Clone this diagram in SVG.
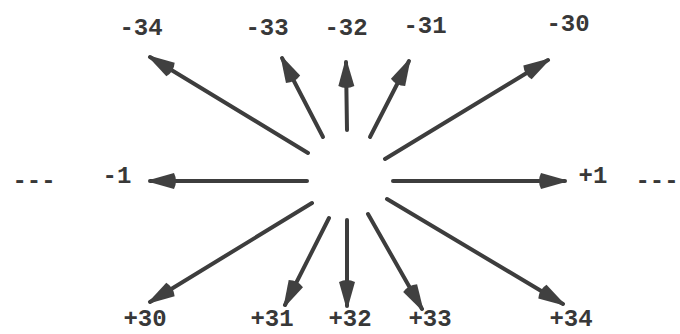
<svg xmlns="http://www.w3.org/2000/svg" width="680" height="334" viewBox="0 0 680 334">
<style>
.l{font-family:"Liberation Mono","DejaVu Sans Mono",monospace;font-weight:bold;font-size:24px;fill:#383838;text-anchor:middle}
.a{stroke:#3d3d3d;stroke-width:4;stroke-linecap:round;fill:none;marker-end:url(#h)}
</style>
<defs>
<marker id="h" markerUnits="userSpaceOnUse" markerWidth="32" markerHeight="20" viewBox="-5 -9 32 18" refX="24" refY="0" orient="auto">
<path d="M0,-8 Q-4,0 0,8 L23,1.5 Q25.5,0 23,-1.5 Z" fill="#404040"/>
</marker>
</defs>
<rect width="680" height="334" fill="#fff"/>
<g id="connectors">
<line class="a" x1="308" y1="153" x2="150" y2="57"/>
<line class="a" x1="323" y1="137" x2="282" y2="58"/>
<line class="a" x1="347" y1="130" x2="346" y2="62"/>
<line class="a" x1="370" y1="137" x2="409" y2="61"/>
<line class="a" x1="385" y1="159" x2="548" y2="60"/>
<line class="a" x1="307" y1="181" x2="150" y2="181"/>
<line class="a" x1="393" y1="181" x2="565" y2="181"/>
<line class="a" x1="312" y1="203" x2="150" y2="302"/>
<line class="a" x1="329" y1="218" x2="285" y2="305"/>
<line class="a" x1="347" y1="220" x2="347" y2="306"/>
<line class="a" x1="368" y1="214" x2="422" y2="309"/>
<line class="a" x1="387" y1="199" x2="563" y2="304"/>
</g>
<g id="n-34"><text class="l" x="141" y="35">-34</text></g>
<g id="n-33"><text class="l" x="267" y="35">-33</text></g>
<g id="n-32"><text class="l" x="346" y="35">-32</text></g>
<g id="n-31"><text class="l" x="425" y="33">-31</text></g>
<g id="n-30"><text class="l" x="568" y="31">-30</text></g>
<g id="n-dots-left"><text class="l" x="34" y="188">---</text></g>
<g id="n-1"><text class="l" x="117" y="183">-1</text></g>
<g id="n+1"><text class="l" x="593" y="183">+1</text></g>
<g id="n-dots-right"><text class="l" x="657" y="188">---</text></g>
<g id="n+30"><text class="l" x="145" y="326">+30</text></g>
<g id="n+31"><text class="l" x="272" y="326">+31</text></g>
<g id="n+32"><text class="l" x="350" y="326">+32</text></g>
<g id="n+33"><text class="l" x="430" y="326">+33</text></g>
<g id="n+34"><text class="l" x="571" y="326">+34</text></g>
</svg>
